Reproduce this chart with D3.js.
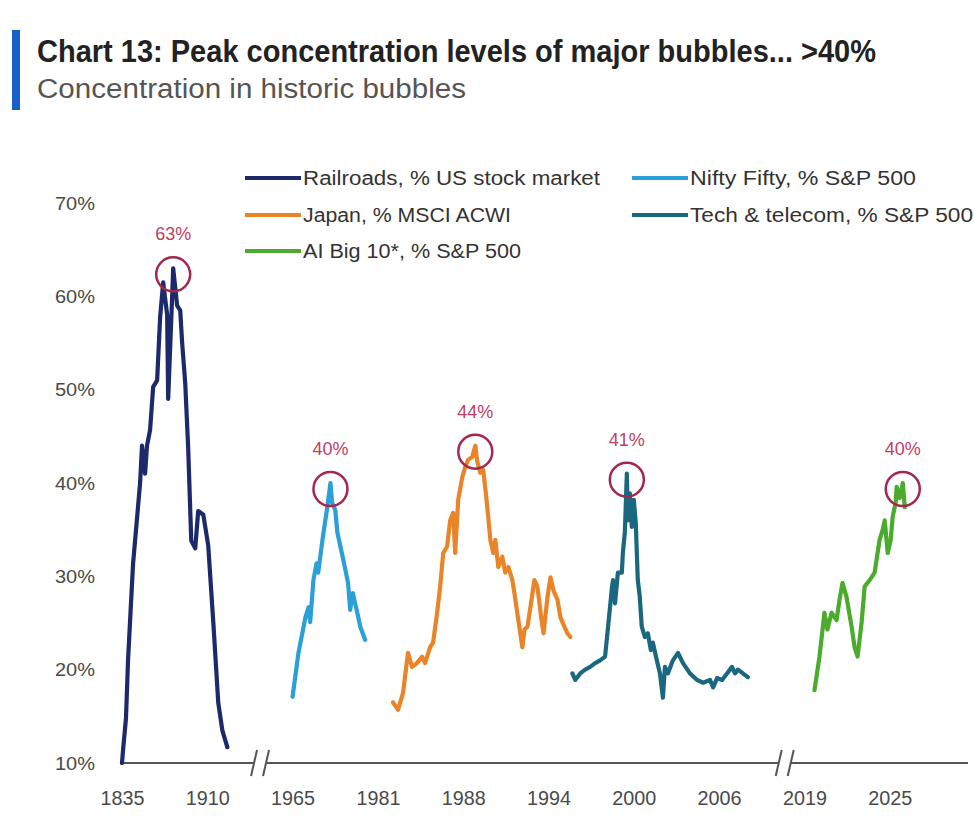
<!DOCTYPE html>
<html>
<head>
<meta charset="utf-8">
<script src="https://cdn.jsdelivr.net/npm/d3@7"></script>
<style>
  html, body { margin: 0; padding: 0; background: #fff; }
  svg { display: block; }
  text { font-family: "Liberation Sans Narrow", "Liberation Sans", Arial, sans-serif; }
</style>
</head>
<body>
<div id="chart"></div>
<script>
// ---- Data: [year, % concentration] ----
const railroads = [
  [1835, 10], [1836, 11.5], [1838.5, 14.8], [1840.3, 21], [1844.7, 31.3], [1850.9, 40],
  [1852.6, 44], [1855.3, 41], [1857, 44], [1859.7, 45.7], [1862.4, 50.3], [1865.9, 51],
  [1868.5, 57.7], [1871.2, 61.5], [1874.7, 58], [1875.6, 49], [1879.1, 60], [1880, 63],
  [1883.5, 59], [1886.2, 58.5], [1887.9, 55], [1890.6, 50.7], [1893.2, 43.7], [1895.9, 33.8],
  [1899.4, 33], [1902, 37], [1906.5, 36.6], [1910.6, 33.3], [1913.9, 25], [1917.1, 16.4],
  [1919.7, 13.5], [1922.9, 11.7]
];
const niftyFifty = [
  [1965, 17.1], [1966.1, 21.8], [1967.4, 25.6], [1968, 26.7], [1968.3, 25.1], [1968.9, 29.6],
  [1969.5, 31.4], [1969.8, 30.4], [1970.6, 33.9], [1971.5, 37.4], [1972.1, 40], [1972.4, 37.9],
  [1973, 37.1], [1973.4, 34.7], [1974.5, 31.8], [1975.4, 29.3], [1975.8, 26.4], [1976.3, 28.2],
  [1976.9, 26.7], [1977.7, 24.6], [1978.6, 23.2]
];
const japan = [
  [1982.24, 16.5], [1982.65, 15.7], [1983.06, 17.5], [1983.47, 21.8], [1983.8, 20.3],
  [1984.21, 20.7], [1984.62, 21.4], [1984.87, 20.7], [1985.28, 22.4], [1985.53, 22.9],
  [1985.86, 26.1], [1986.11, 28.9], [1986.36, 32.5], [1986.68, 33.2], [1986.93, 36],
  [1987.18, 36.8], [1987.34, 32.5], [1987.59, 38.2], [1987.92, 40.6], [1988.14, 41.7],
  [1988.35, 42.5], [1988.64, 42.8], [1988.85, 44], [1988.99, 42.3], [1989.2, 41.1],
  [1989.41, 41.4], [1989.62, 38.5], [1989.76, 36.4], [1989.91, 33.9], [1990.12, 32.5],
  [1990.26, 33.9], [1990.47, 31], [1990.75, 32.1], [1990.96, 30.4], [1991.18, 31],
  [1991.46, 29.6], [1991.67, 27.5], [1991.88, 25.3], [1992.16, 22.4], [1992.31, 24.3],
  [1992.52, 24.6], [1992.73, 26.7], [1993.01, 29.6], [1993.22, 28.9], [1993.51, 25.3],
  [1993.65, 23.9], [1993.93, 27.8], [1994.14, 29.9], [1994.35, 28.5], [1994.63, 27.5],
  [1994.84, 25.6], [1995.12, 24.6], [1995.33, 23.9], [1995.54, 23.5]
];
const techTelecom = [
  [1995.68, 19.6], [1995.88, 18.9], [1996.23, 19.6], [1996.58, 20], [1996.93, 20.3],
  [1997.28, 20.7], [1997.63, 21], [1997.98, 21.4], [1998.19, 24.6], [1998.47, 28.9],
  [1998.54, 29.6], [1998.68, 27.1], [1998.88, 30.4], [1999.16, 30.4], [1999.23, 32.5],
  [1999.37, 34.7], [1999.51, 41], [1999.58, 36], [1999.72, 38.9], [1999.86, 35.3],
  [2000, 38.2], [2000.14, 35.7], [2000.28, 29.6], [2000.42, 27.8], [2000.56, 24.6],
  [2000.78, 23.5], [2000.99, 23.9], [2001.2, 22.1], [2001.34, 22.9], [2001.62, 21],
  [2001.84, 19.6], [2002.05, 17], [2002.19, 20.3], [2002.4, 19.6], [2002.75, 21],
  [2003.11, 21.8], [2003.46, 20.7], [2003.95, 19.6], [2004.45, 18.9], [2004.87, 18.6],
  [2005.36, 18.9], [2005.58, 18.1], [2005.86, 19.1], [2006.45, 18.9], [2007.21, 19.6],
  [2007.96, 20.3], [2008.42, 19.6], [2008.87, 20], [2009.63, 19.6], [2010.38, 19.2]
];
const aiBig10 = [
  [2019.71, 17.8], [2020.06, 21.4], [2020.41, 26.1], [2020.62, 24.3], [2020.91, 26.1],
  [2021.26, 25.3], [2021.47, 27.5], [2021.68, 29.3], [2021.96, 27.8], [2022.32, 24.6],
  [2022.53, 22.4], [2022.74, 21.4], [2023.02, 25], [2023.24, 28.9], [2023.59, 29.6],
  [2023.94, 30.4], [2024.08, 31.8], [2024.29, 33.9], [2024.51, 35], [2024.65, 36],
  [2024.86, 32.5], [2025.07, 33.9], [2025.21, 36.4], [2025.42, 37.9], [2025.49, 39.6],
  [2025.71, 38.4], [2025.92, 40], [2026.06, 37.4]
];

const seriesNames = [
  "Railroads, % US stock market",
  "Nifty Fifty, % S&P 500",
  "Japan, % MSCI ACWI",
  "Tech & telecom, % S&P 500",
  "AI Big 10*, % S&P 500"
];
const seriesColors = ["#1c2a6c", "#2a9fd8", "#ea8428", "#19687f", "#4aab2c"];
const seriesData = [railroads, niftyFifty, japan, techTelecom, aiBig10];

const tickYears = [1835, 1910, 1965, 1981, 1988, 1994, 2000, 2006, 2019, 2025];
const breakYears = [1944, 2016];
const yTicks = [10, 20, 30, 40, 50, 60, 70];

const title = "Chart 13: Peak concentration levels of major bubbles... >40%";
const subtitle = "Concentration in historic bubbles";

// ---- Layout ----
const W = 974, H = 830;
const svg = d3.select("#chart").append("svg")
  .attr("width", W).attr("height", H)
  .style("background", "#fff");

// Header
svg.append("rect").attr("x", 12).attr("y", 30).attr("width", 8).attr("height", 80)
  .attr("fill", "#1660c9");
svg.append("text").attr("x", 37).attr("y", 62)
  .attr("font-size", 31).attr("font-weight", "bold").attr("fill", "#222")
  .attr("textLength", 839).attr("lengthAdjust", "spacingAndGlyphs")
  .text(title);
svg.append("text").attr("x", 37).attr("y", 98)
  .attr("font-size", 27).attr("fill", "#555")
  .attr("textLength", 429).attr("lengthAdjust", "spacingAndGlyphs")
  .text(subtitle);

// Scales: equal spacing between labelled years (broken time axis)
const x0 = 122, step = 85.3;
const x = d3.scaleLinear()
  .domain(tickYears)
  .range(tickYears.map((d, i) => x0 + i * step));
const y = d3.scaleLinear().domain([10, 70]).range([763, 203]);

// Y axis (labels only)
const yAxis = svg.append("g").attr("transform", "translate(100,0)")
  .call(d3.axisLeft(y).tickValues(yTicks).tickSize(0).tickPadding(5).tickFormat(d => d + "%"));
yAxis.select(".domain").remove();
yAxis.selectAll("text").attr("font-size", 19).attr("fill", "#4a4a4a")
  .attr("textLength", 40).attr("lengthAdjust", "spacingAndGlyphs")
  .style("font-family", '"Liberation Sans Narrow", "Liberation Sans", Arial, sans-serif');

// X axis labels
const xAxis = svg.append("g").attr("transform", `translate(0,${y(10)})`)
  .call(d3.axisBottom(x).tickValues(tickYears).tickSize(0).tickPadding(28).tickFormat(d3.format("d")));
xAxis.select(".domain").remove();
xAxis.selectAll("text").attr("font-size", 20).attr("fill", "#4a4a4a")
  .attr("textLength", 44).attr("lengthAdjust", "spacingAndGlyphs")
  .style("font-family", '"Liberation Sans Narrow", "Liberation Sans", Arial, sans-serif');

// Axis line with break marks
const axisY = y(10);
const gap = 6;
const bx = breakYears.map(x);
const segs = [[x(tickYears[0]), bx[0] - gap], [bx[0] + gap, bx[1] - gap], [bx[1] + gap, 968]];
const axisG = svg.append("g");
axisG.selectAll("line.seg").data(segs).join("line").attr("class", "seg")
  .attr("x1", d => d[0]).attr("x2", d => d[1])
  .attr("y1", axisY).attr("y2", axisY)
  .attr("stroke", "#555").attr("stroke-width", 2);
const slashes = bx.flatMap(b => [b - gap, b + gap]);
axisG.selectAll("line.brk").data(slashes).join("line").attr("class", "brk")
  .attr("x1", d => d - 3).attr("x2", d => d + 3)
  .attr("y1", axisY + 13).attr("y2", axisY - 13)
  .attr("stroke", "#555").attr("stroke-width", 2);

// Lines
const line = d3.line().x(d => x(d[0])).y(d => y(d[1]));
svg.append("g").selectAll("path").data(seriesData).join("path")
  .attr("d", line)
  .attr("fill", "none")
  .attr("stroke", (d, i) => seriesColors[i])
  .attr("stroke-width", 4.2)
  .attr("stroke-linejoin", "round")
  .attr("stroke-linecap", "round");

// Peak markers
const peaks = seriesData.map(s => s[d3.maxIndex(s, d => d[1])]);
const ann = svg.append("g");
ann.selectAll("circle").data(peaks).join("circle")
  .attr("cx", d => x(d[0]))
  .attr("cy", d => y(d[1]) + 6)
  .attr("r", 17)
  .attr("fill", "none")
  .attr("stroke", "#a3284d")
  .attr("stroke-width", 2.5);
ann.selectAll("text").data(peaks).join("text")
  .attr("x", d => x(d[0]))
  .attr("y", d => y(d[1]) - 28)
  .attr("text-anchor", "middle")
  .attr("font-size", 18)
  .attr("fill", "#c0405f")
  .text(d => d3.format(".0f")(d[1]) + "%");

// Legend
const legendPos = [
  { lx: 245, ty: 178 }, { lx: 632, ty: 178 },
  { lx: 245, ty: 215 }, { lx: 632, ty: 215 },
  { lx: 245, ty: 251 }
];
const legendWidths = [297, 226, 208, 283, 218];
const lg = svg.append("g").selectAll("g").data(seriesNames).join("g")
  .attr("transform", (d, i) => `translate(${legendPos[i].lx},${legendPos[i].ty})`);
lg.append("line").attr("x1", 0).attr("x2", 56).attr("y1", 0).attr("y2", 0)
  .attr("stroke", (d, i) => seriesColors[i]).attr("stroke-width", 4);
lg.append("text").attr("x", 58).attr("y", 7)
  .attr("font-size", 20).attr("fill", "#333")
  .attr("textLength", (d, i) => legendWidths[i]).attr("lengthAdjust", "spacingAndGlyphs")
  .text(d => d);
</script>
</body>
</html>
